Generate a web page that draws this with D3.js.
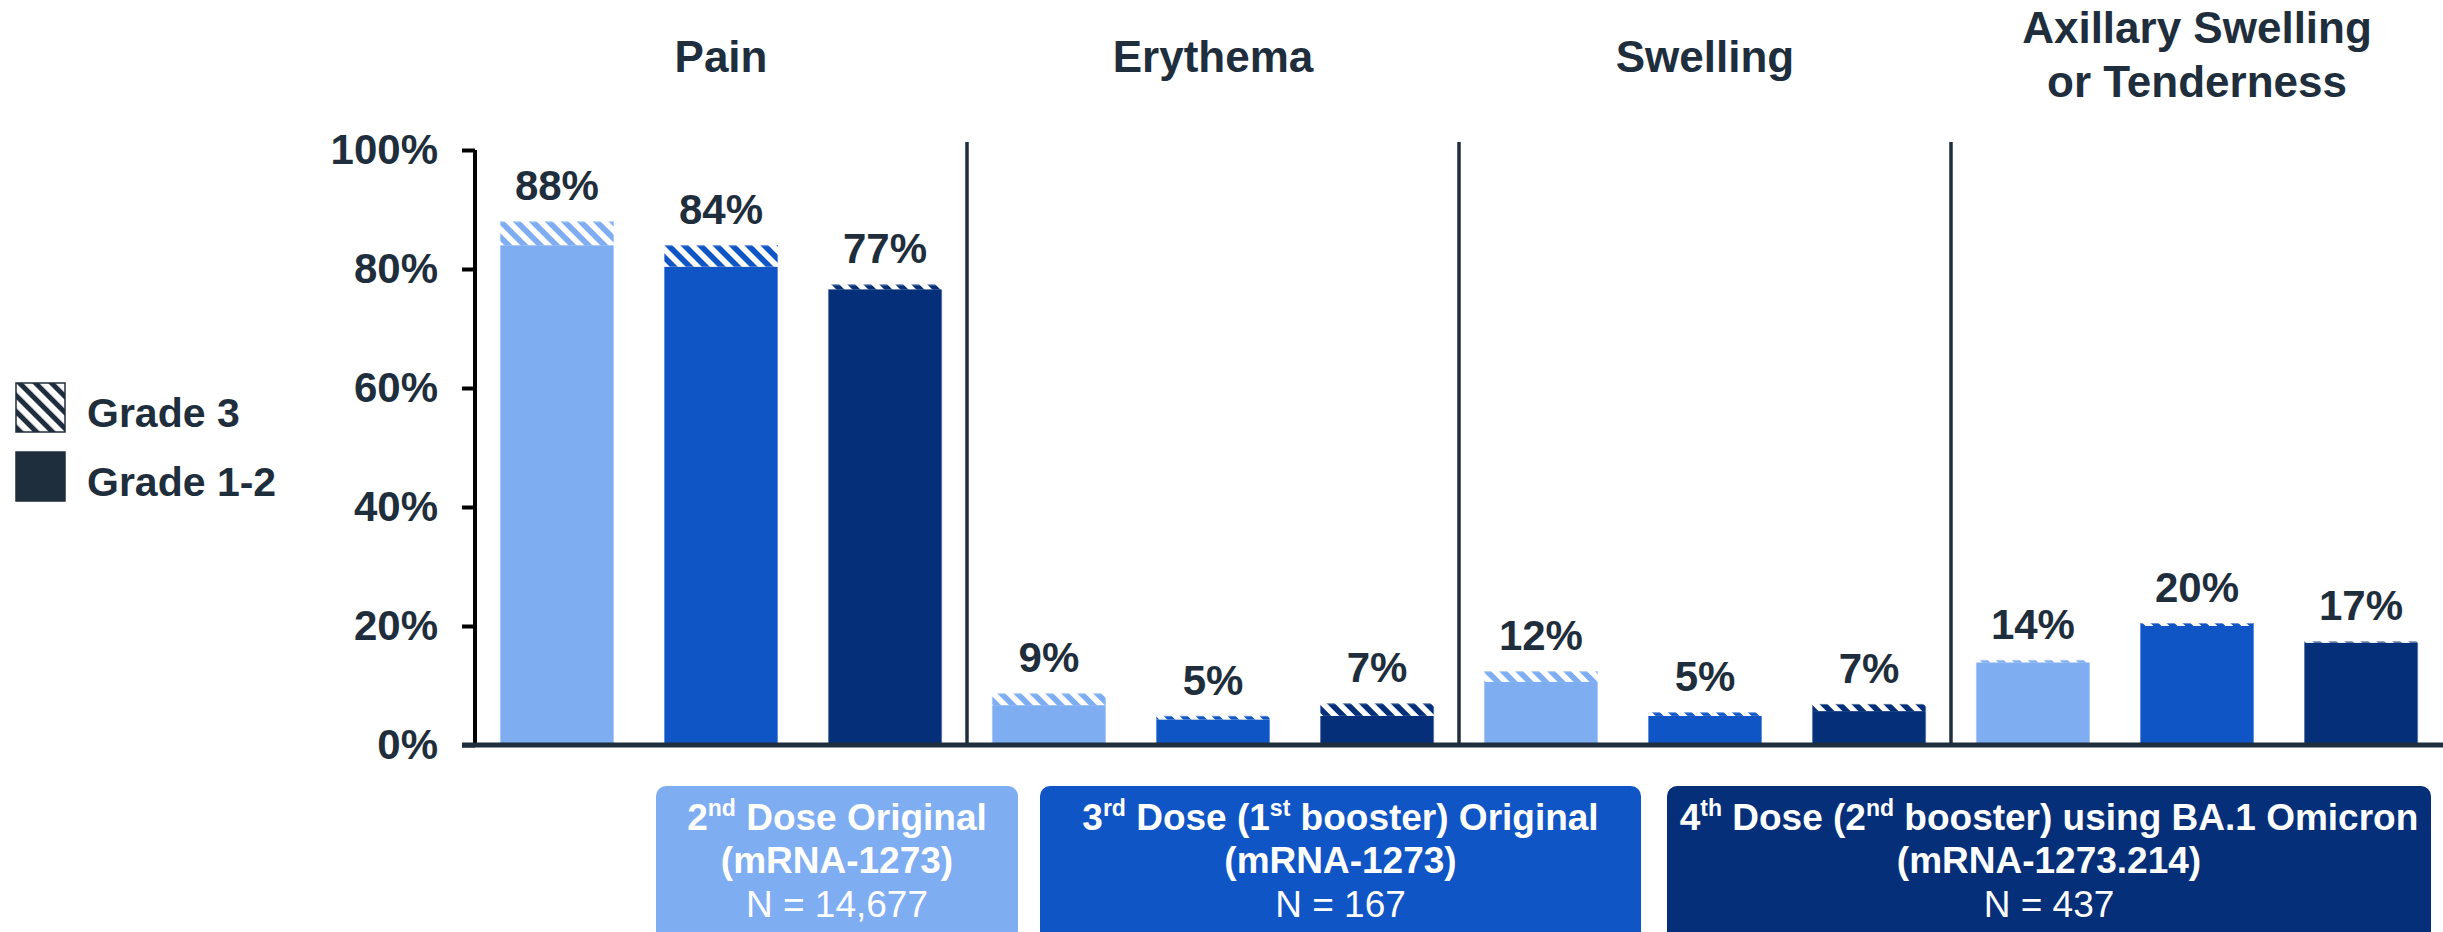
<!DOCTYPE html>
<html>
<head>
<meta charset="utf-8">
<script src="https://cdn.jsdelivr.net/npm/d3@7"></script>
<style>
  body { margin: 0; background: #fff; }
  svg { display: block; font-family: "Liberation Sans", Arial, sans-serif; }
</style>
</head>
<body>
<div id="chart"></div>
<script>
// reaction categories (title lines)
var categories = ["Pain", "Erythema", "Swelling", "Axillary"];
var categoryTitles = [["Pain"], ["Erythema"], ["Swelling"], ["Axillary Swelling", "or Tenderness"]];
var doses = ["dose2", "dose3", "dose4"];

// % of participants, per category, per dose
var grade12 = [[84.0, 80.4, 76.6], [6.7, 4.3, 4.9], [10.6, 4.9, 5.7], [13.9, 20.0, 17.2]];
var grade3 = [[4.0, 3.6, 0.8], [2.0, 0.6, 2.1], [1.8, 0.6, 1.2], [0.4, 0.5, 0.2]];
var totalLabels = [["88%", "84%", "77%"], ["9%", "5%", "7%"], ["12%", "5%", "7%"], ["14%", "20%", "17%"]];

var yTicks = [0, 20, 40, 60, 80, 100];
var legendItems = ["Grade 3", "Grade 1-2"];

// dose boxes: first line split in normal / superscript parts
var doseLine1 = [
    ["2", "nd", " Dose Original"],
    ["3", "rd", " Dose (1", "st", " booster) Original"],
    ["4", "th", " Dose (2", "nd", " booster) using BA.1 Omicron"]
];
var doseLine2 = ["(mRNA-1273)", "(mRNA-1273)", "(mRNA-1273.214)"];
var doseN = ["N = 14,677", "N = 167", "N = 437"];

var colors = ["#7fadf2", "#1055c5", "#052f79"];
var ink = "#1f2e3c";

var W = 2443, H = 932;
var svg = d3.select("#chart").append("svg")
    .attr("width", W)
    .attr("height", H);

// scales
var x0 = d3.scaleBand().domain(categories).range([475, 2443]).padding(0);
var x1 = d3.scaleBand().domain(doses).range([0, x0.bandwidth()])
    .paddingInner(0.305).paddingOuter(0.152);
var y = d3.scaleLinear().domain([0, 100]).range([745, 150]);

// hatch patterns (white stripes over bar colour)
var defs = svg.append("defs");
colors.forEach(function (c, i) {
    var p = defs.append("pattern")
        .attr("id", "hatch" + i)
        .attr("patternUnits", "userSpaceOnUse")
        .attr("width", 11.3)
        .attr("height", 11.3)
        .attr("patternTransform", "rotate(-45)");
    p.append("rect").attr("width", 11.3).attr("height", 11.3).attr("fill", c);
    p.append("rect").attr("width", 5.6).attr("height", 11.3).attr("fill", "#fff");
});
var lp = defs.append("pattern")
    .attr("id", "hatchLegend")
    .attr("patternUnits", "userSpaceOnUse")
    .attr("width", 11.3)
    .attr("height", 11.3)
    .attr("patternTransform", "rotate(-45)");
lp.append("rect").attr("width", 11.3).attr("height", 11.3).attr("fill", "#fff");
lp.append("rect").attr("width", 5).attr("height", 11.3).attr("fill", ink);

// category titles
categories.forEach(function (cat, ci) {
    var lines = categoryTitles[ci];
    var base = lines.length > 1 ? 43 : 72;
    var t = svg.append("text")
        .attr("text-anchor", "middle")
        .attr("font-size", 44)
        .attr("font-weight", "bold")
        .attr("fill", ink);
    lines.forEach(function (l, li) {
        t.append("tspan")
            .attr("x", x0(cat) + x0.bandwidth() / 2)
            .attr("y", base + li * 54)
            .text(l);
    });
});

// dividers between categories
svg.append("g")
    .selectAll("line")
    .data(categories.slice(1))
    .enter()
    .append("line")
    .attr("x1", function (d) { return x0(d); })
    .attr("x2", function (d) { return x0(d); })
    .attr("y1", 142)
    .attr("y2", y(0))
    .attr("stroke", ink)
    .attr("stroke-width", 3.5);

// bars
var groups = svg.append("g")
    .selectAll("g")
    .data(categories)
    .enter()
    .append("g")
    .attr("transform", function (d) { return "translate(" + x0(d) + ",0)"; });

groups.each(function (cat, ci) {
    var g = d3.select(this);
    doses.forEach(function (dose, di) {
        var lo = grade12[ci][di], hi = lo + grade3[ci][di];
        g.append("rect")
            .attr("x", x1(dose))
            .attr("width", x1.bandwidth())
            .attr("y", y(lo))
            .attr("height", y(0) - y(lo))
            .attr("fill", colors[di]);
        g.append("rect")
            .attr("x", x1(dose))
            .attr("width", x1.bandwidth())
            .attr("y", y(hi))
            .attr("height", y(lo) - y(hi))
            .attr("fill", "url(#hatch" + di + ")");
        g.append("rect")
            .attr("x", x1(dose) + 0.5)
            .attr("width", x1.bandwidth() - 1)
            .attr("y", y(hi) + 0.5)
            .attr("height", y(0) - y(hi) - 0.5)
            .attr("fill", "none")
            .attr("stroke", "#ffffff")
            .attr("stroke-opacity", 0.35)
            .attr("stroke-width", 1);
        g.append("text")
            .attr("x", x1(dose) + x1.bandwidth() / 2)
            .attr("y", y(hi) - 21)
            .attr("text-anchor", "middle")
            .attr("font-size", 42)
            .attr("font-weight", "bold")
            .attr("fill", ink)
            .text(totalLabels[ci][di]);
    });
});

// y axis
var yAxis = svg.append("g")
    .attr("transform", "translate(475,0)")
    .call(d3.axisLeft(y).tickValues(yTicks).tickSize(13).tickPadding(24)
        .tickFormat(function (d) { return d + "%"; }));
yAxis.select(".domain").attr("stroke", "#000").attr("stroke-width", 4)
    .attr("d", "M0," + y(100) + "V" + y(0));
yAxis.selectAll(".tick line").attr("stroke", "#000").attr("stroke-width", 4);
yAxis.selectAll(".tick text")
    .attr("font-size", 42)
    .attr("font-weight", "bold")
    .attr("fill", ink)
    .attr("font-family", "Liberation Sans, Arial, sans-serif");

// x baseline
svg.append("line")
    .attr("x1", 462)
    .attr("x2", W)
    .attr("y1", y(0))
    .attr("y2", y(0))
    .attr("stroke", ink)
    .attr("stroke-width", 5);

// legend
var legend = svg.append("g")
    .selectAll("g")
    .data(legendItems)
    .enter()
    .append("g")
    .attr("transform", function (d, i) { return "translate(16," + (383 + i * 69) + ")"; });
legend.append("rect")
    .attr("width", 49)
    .attr("height", 49)
    .attr("fill", function (d, i) { return i === 0 ? "url(#hatchLegend)" : ink; })
    .attr("stroke", ink)
    .attr("stroke-width", 1.5);
legend.append("text")
    .attr("x", 71)
    .attr("y", 44)
    .attr("font-size", 41)
    .attr("font-weight", "bold")
    .attr("fill", ink)
    .text(function (d) { return d; });

// dose boxes under the chart
var boxX = [656, 1040, 1667];
var boxW = [362, 601, 764];
doses.forEach(function (dose, di) {
    var cx = boxX[di] + boxW[di] / 2;
    svg.append("rect")
        .attr("x", boxX[di])
        .attr("y", 786)
        .attr("width", boxW[di])
        .attr("height", 180)
        .attr("rx", 10)
        .attr("fill", colors[di]);
    var t1 = svg.append("text")
        .attr("x", cx)
        .attr("y", 830)
        .attr("text-anchor", "middle")
        .attr("font-size", 37)
        .attr("font-weight", "bold")
        .attr("fill", "#fff");
    doseLine1[di].forEach(function (part, pi) {
        var sup = pi % 2 === 1;
        var ts = t1.append("tspan").text(part);
        if (sup) ts.attr("font-size", 23).attr("dy", -14);
        else if (pi > 0) ts.attr("dy", 14);
    });
    svg.append("text")
        .attr("x", cx)
        .attr("y", 873)
        .attr("text-anchor", "middle")
        .attr("font-size", 37)
        .attr("font-weight", "bold")
        .attr("fill", "#fff")
        .text(doseLine2[di]);
    svg.append("text")
        .attr("x", cx)
        .attr("y", 917)
        .attr("text-anchor", "middle")
        .attr("font-size", 37)
        .attr("fill", "#fff")
        .text(doseN[di]);
});
</script>
</body>
</html>
